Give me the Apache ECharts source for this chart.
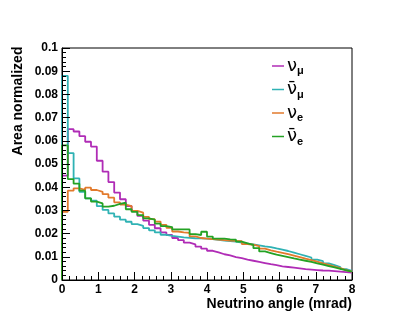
<!DOCTYPE html>
<html>
<head>
<meta charset="utf-8">
<script src="https://cdn.jsdelivr.net/npm/echarts@6/dist/echarts.min.js"></script>
<style>
  html, body { margin: 0; padding: 0; background: #fff; }
  #wrap { position: relative; width: 415px; height: 329px; }
  #chart, #ticks { position: absolute; left: 0; top: 0; width: 415px; height: 329px; }
  #ticks { pointer-events: none; }
</style>
</head>
<body>
<div id="wrap">
  <div id="chart"></div>
  <div id="ticks"></div>
</div>
<script>
// histogram binning: 50 bins of 0.16 mrad from 0 to 8
var binWidth = 0.16;

// nu_mu
var numuVals = [0.045, 0.065, 0.064, 0.062, 0.0596, 0.0575, 0.0514, 0.0467, 0.0422, 0.0377,
  0.0348, 0.0319, 0.0297, 0.0276, 0.0256, 0.0238, 0.0223, 0.0205, 0.0194, 0.0181,
  0.0172, 0.0161, 0.0154, 0.0144, 0.0135, 0.0126, 0.0119, 0.0111, 0.0106, 0.0099,
  0.0094, 0.0088, 0.0083, 0.0078, 0.0073, 0.0068, 0.0064, 0.0059, 0.0056, 0.0053,
  0.005, 0.0047, 0.0045, 0.0043, 0.0041, 0.004, 0.0038, 0.0036, 0.0034, 0.0032];
// anti nu_mu
var anumuVals = [0.088, 0.0547, 0.0438, 0.038, 0.0352, 0.0342, 0.0318, 0.0302, 0.0287, 0.0273,
  0.026, 0.0251, 0.0241, 0.0233, 0.0224, 0.0214, 0.0205, 0.0195, 0.019, 0.0187,
  0.0184, 0.0182, 0.018, 0.0179, 0.0178, 0.0176, 0.0173, 0.017, 0.0168, 0.0165,
  0.0161, 0.0157, 0.0153, 0.0149, 0.0145, 0.0142, 0.0136, 0.0131, 0.0125, 0.0118,
  0.0111, 0.0104, 0.0097, 0.0088, 0.0081, 0.0072, 0.0064, 0.0056, 0.0047, 0.0039];
// nu_e
var nueVals = [0.0294, 0.0385, 0.0395, 0.0388, 0.0398, 0.0388, 0.038, 0.037, 0.0355, 0.0335,
  0.0325, 0.0318, 0.0298, 0.029, 0.0272, 0.0262, 0.0252, 0.0238, 0.0225, 0.0209,
  0.0205, 0.0203, 0.0188, 0.0181, 0.0178, 0.0176, 0.0174, 0.0172, 0.017, 0.0169,
  0.0167, 0.0155, 0.0152, 0.0146, 0.0135, 0.0128, 0.0122, 0.0117, 0.0111, 0.0105,
  0.0099, 0.0092, 0.0086, 0.0079, 0.0072, 0.0065, 0.0058, 0.0051, 0.0043, 0.0036];
// anti nu_e
var anueVals = [0.058, 0.0435, 0.0415, 0.0385, 0.0352, 0.0338, 0.033, 0.0316, 0.032, 0.0328,
  0.0333, 0.0305, 0.0294, 0.028, 0.0266, 0.026, 0.0243, 0.0232, 0.0228, 0.0218,
  0.0218, 0.0218, 0.0198, 0.0194, 0.0208, 0.0187, 0.0178, 0.0178, 0.0175, 0.0174,
  0.0165, 0.0158, 0.0151, 0.0137, 0.0123, 0.0116, 0.0109, 0.0104, 0.0099, 0.0093,
  0.0088, 0.0083, 0.0078, 0.0072, 0.0066, 0.006, 0.0054, 0.0048, 0.0042, 0.0036];

var seriesNames = ['numu', 'anumu', 'nue', 'anue'];
var legendLabels = ['{n|ν}{s|μ}', '{n|ν̄}{s|μ}', '{n|ν}{s|e}', '{n|ν̄}{s|e}'];
var seriesColors = ['#b02cb6', '#2fb2b4', '#e27a2c', '#24a224'];

// turn bin contents into step points (left edge of each bin + closing edge)
function histData(vals) {
  var d = [[0, 0]];
  for (var i = 0; i < vals.length; i++) {
    d.push([+(i * binWidth).toFixed(2), vals[i]]);
  }
  d.push([+(vals.length * binWidth).toFixed(2), vals[vals.length - 1]]);
  return d;
}

var allVals = [numuVals, anumuVals, nueVals, anueVals];

var gridBox = { left: 62, right: 63, top: 48, bottom: 49 };
var labelFont = { color: '#000', fontFamily: 'Liberation Sans', fontWeight: 'bold', fontSize: 12 };

// ---- main chart: histograms, labels, titles, legend ----
var myChart = echarts.init(document.getElementById('chart'));

var series = [];
for (var k = 0; k < allVals.length; k++) {
  series.push({
    name: seriesNames[k],
    type: 'line',
    step: 'end',
    symbol: 'none',
    data: histData(allVals[k]),
    lineStyle: { color: seriesColors[k], width: 1.8 },
    itemStyle: { color: seriesColors[k] }
  });
}

// legend drawn by hand (line swatch + rich text), ROOT style
var legendItems = [];
var legendRich = {
  n: { fontFamily: 'DejaVu Sans', fontSize: 18, fill: '#000' },
  s: { fontFamily: 'Liberation Sans', fontWeight: 'bold', fontSize: 11, fill: '#000', padding: [10, 0, 0, 0] }
};
for (var j = 0; j < seriesNames.length; j++) {
  var ly = 66 + j * 23.5;
  legendItems.push({
    type: 'line', shape: { x1: 272, y1: ly, x2: 284, y2: ly },
    style: { stroke: seriesColors[j], lineWidth: 1.5 }
  });
  legendItems.push({
    type: 'text', x: 287, y: ly,
    style: { text: legendLabels[j], rich: legendRich, verticalAlign: 'middle', align: 'left' }
  });
}

myChart.setOption({
  animation: false,
  grid: Object.assign({ show: true, borderColor: '#000', borderWidth: 1 }, gridBox),
  xAxis: {
    type: 'value', min: 0, max: 8, interval: 1,
    axisLine: { show: false },
    axisTick: { show: false },
    splitLine: { show: false },
    axisLabel: Object.assign({ margin: 4 }, labelFont)
  },
  yAxis: {
    type: 'value', min: 0, max: 0.1, interval: 0.01,
    axisLine: { show: false },
    axisTick: { show: false },
    splitLine: { show: false },
    axisLabel: Object.assign({
      margin: 4,
      formatter: function (v) { return String(+v.toFixed(2)); }
    }, labelFont)
  },
  graphic: [
    {
      type: 'text', x: 18, y: 101, rotation: Math.PI / 2,
      style: { text: 'Area normalized', fontFamily: 'Liberation Sans', fontWeight: 'bold', fontSize: 14,
        fill: '#000', align: 'center', verticalAlign: 'middle' }
    },
    {
      type: 'text', x: 352, y: 304,
      style: { text: 'Neutrino angle (mrad)', fontFamily: 'Liberation Sans', fontWeight: 'bold', fontSize: 14,
        fill: '#000', align: 'right', verticalAlign: 'middle' }
    }
  ].concat(legendItems),
  series: series
});

// ---- overlay: axis lines and inward ticks only ----
var tickChart = echarts.init(document.getElementById('ticks'));
tickChart.setOption({
  animation: false,
  backgroundColor: 'transparent',
  grid: Object.assign({}, gridBox),
  xAxis: {
    type: 'value', min: 0, max: 8, interval: 1,
    axisLine: { show: true, onZero: false, lineStyle: { color: '#000', width: 1 } },
    axisTick: { show: true, inside: true, length: 8, lineStyle: { color: '#000', width: 1 } },
    minorTick: { show: true, splitNumber: 5, length: 4, lineStyle: { color: '#000', width: 1 } },
    splitLine: { show: false },
    axisLabel: { show: false }
  },
  yAxis: {
    type: 'value', min: 0, max: 0.1, interval: 0.01,
    axisLine: { show: true, onZero: false, lineStyle: { color: '#000', width: 1 } },
    axisTick: { show: true, inside: true, length: 8, lineStyle: { color: '#000', width: 1 } },
    minorTick: { show: true, splitNumber: 5, length: 4, lineStyle: { color: '#000', width: 1 } },
    splitLine: { show: false },
    axisLabel: { show: false }
  },
  series: [{ type: 'line', symbol: 'none', data: [] }]
});
</script>
</body>
</html>
